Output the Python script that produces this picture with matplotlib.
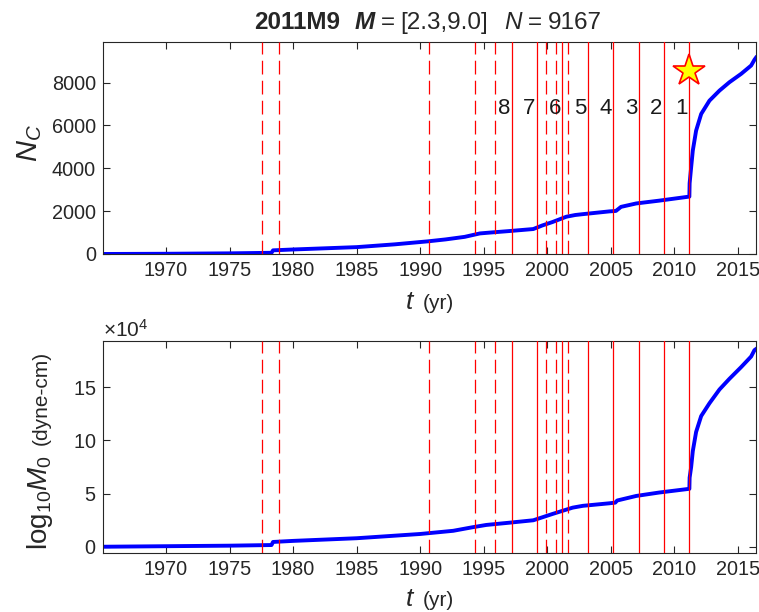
import numpy as np
import matplotlib.pyplot as plt
from matplotlib.ticker import ScalarFormatter

plt.rcParams['font.family'] = ['Liberation Sans', 'DejaVu Sans']
plt.rcParams['mathtext.fontset'] = 'custom'
plt.rcParams['mathtext.rm'] = 'Liberation Sans'
plt.rcParams['mathtext.it'] = 'Liberation Sans:italic'
plt.rcParams['mathtext.bf'] = 'Liberation Sans:bold'

TXT = '#262626'

# cumulative number of events N_C (top panel)
nc_years = [1965.04, 1970.0, 1975.0, 1978.30, 1978.42, 1980.0, 1985.0, 1988.0,
            1990.6, 1992.0, 1993.5, 1994.7, 1995.5, 1997.0, 1998.9, 1999.6,
            2000.4, 2001.5, 2002.2, 2002.8, 2004.9, 2005.4, 2005.8, 2007.0,
            2008.8, 2011.18, 2011.20, 2011.32, 2011.45, 2011.71, 2012.11,
            2012.76, 2013.55, 2014.33, 2015.25, 2016.04, 2016.30, 2016.42]
nc_vals = [0, 10, 30, 55, 170, 210, 320, 450,
           590, 680, 800, 960, 1000, 1070, 1165, 1330,
           1490, 1740, 1820, 1860, 1990, 2010, 2200, 2360,
           2490, 2680, 3300, 4050, 4830, 5760, 6540,
           7160, 7630, 8020, 8410, 8800, 9070, 9167]

# cumulative moment, units of 1e4 (bottom panel)
mo_years = [1965.04, 1975.0, 1978.30, 1978.42, 1980.0, 1985.0, 1990.0, 1992.6,
            1994.1, 1995.2, 1997.0, 1998.9, 2000.4, 2002.0, 2002.8, 2004.9,
            2005.35, 2005.5, 2007.0, 2008.8, 2011.18, 2011.20, 2011.32, 2011.45,
            2011.71, 2012.11, 2012.76, 2013.55, 2014.33, 2015.25, 2016.04,
            2016.30, 2016.42]
mo_vals = [0.0, 0.1, 0.16, 0.45, 0.55, 0.8, 1.2, 1.5,
           1.83, 2.05, 2.26, 2.49, 3.08, 3.68, 3.85, 4.09,
           4.15, 4.35, 4.78, 5.1, 5.45, 6.5, 7.5, 9.0,
           10.8, 12.3, 13.5, 14.8, 15.8, 16.9, 17.9,
           18.5, 18.6]

dashed_years = [1977.59, 1978.89, 1990.70, 1994.30, 1995.87, 1999.88, 2000.70, 2001.66]
solid_years = [1997.19, 1999.19, 2001.19, 2003.19, 2005.19, 2007.19, 2009.19, 2011.19]
window_labels = ['8', '7', '6', '5', '4', '3', '2', '1']
main_shock = (2011.19, 8560)


def seq_text(fig, xc, yc, pieces, vertical=False):
    # pieces: (string, kwargs, gap in px before)
    r = fig.canvas.get_renderer()
    W, H = fig.bbox.width, fig.bbox.height
    objs = []
    for s, kw, gap in pieces:
        t = fig.text(0, 0, s, ha='left', va='baseline', color=TXT,
                     rotation=90 if vertical else 0, rotation_mode='anchor', **kw)
        objs.append((t, gap))
    lens = []
    for t, gap in objs:
        bb = t.get_window_extent(r)
        lens.append(bb.height if vertical else bb.width)
    total = sum(lens) + sum(g for _, g in objs)
    pos = (yc * H if vertical else xc * W) - total / 2
    for (t, gap), L in zip(objs, lens):
        pos += gap
        if vertical:
            t.set_position((xc, pos / H))
        else:
            t.set_position((pos / W, yc))
        pos += L


fig = plt.figure(figsize=(7.59, 6.12), dpi=100)
ax1 = fig.add_axes([0.1357, 0.585, 0.8603, 0.3464])
ax2 = fig.add_axes([0.1357, 0.0964, 0.8603, 0.3464])

for ax in (ax1, ax2):
    for x in dashed_years:
        ax.axvline(x, color='red', lw=0.9, ls=(0, (11, 5)), zorder=3)
    for x in solid_years:
        ax.axvline(x, color='red', lw=0.9, zorder=3)
    ax.set_xlim(1965.04, 2016.42)
    ax.set_xticks(range(1970, 2016, 5))
    ax.tick_params(direction='in', top=True, right=True, length=5, width=0.8,
                   colors=TXT, labelsize=14.3, pad=5)
    for sp in ax.spines.values():
        sp.set_color(TXT)
        sp.set_linewidth(0.8)

ax1.plot(nc_years, nc_vals, color='blue', lw=2.8, zorder=2)
ax1.set_ylim(0, 9900)
ax1.set_yticks([0, 2000, 4000, 6000, 8000])
ax1.plot(*main_shock, marker='*', ms=24, mfc='yellow', mec='red', mew=1.2, zorder=5)
for i, lab in enumerate(window_labels):
    xc = (solid_years[i] - 2 + solid_years[i]) / 2 + 0.4
    ax1.text(xc, 6800, lab, ha='center', va='center', fontsize=16, color='#1a1a1a', zorder=6)

ax2.plot(mo_years, np.array(mo_vals) * 1e4, color='blue', lw=2.8, zorder=2)
ax2.set_ylim(-0.59e4, 19.36e4)
ax2.set_yticks([0, 5e4, 10e4, 15e4])
fmt = ScalarFormatter(useMathText=True)
fmt.set_powerlimits((4, 4))
ax2.yaxis.set_major_formatter(fmt)
ax2.yaxis.get_offset_text().set_fontsize(15)
ax2.yaxis.get_offset_text().set_color(TXT)

fig.canvas.draw()

seq_text(fig, 428 / 759, 1 - 29 / 612, [
    ('2011M9', dict(fontsize=17.5, fontweight='bold'), 0),
    ('M', dict(fontsize=17.5, fontweight='bold', fontstyle='italic'), 14),
    ('=', dict(fontsize=17.5), 6),
    ('[2.3,9.0]', dict(fontsize=17.5), 6),
    ('N', dict(fontsize=17.5, fontstyle='italic'), 16),
    ('=', dict(fontsize=17.5), 6),
    ('9167', dict(fontsize=17.5), 6),
])

for yb in (1 - 309 / 612, 1 - 606 / 612):
    seq_text(fig, 430 / 759, yb, [
        ('t', dict(fontsize=19, fontstyle='italic'), 0),
        ('(yr)', dict(fontsize=15), 9),
    ])

seq_text(fig, 37 / 759, 1 - 143 / 612, [(r'$N_C$', dict(fontsize=21), 0)], vertical=True)
seq_text(fig, 47 / 759, 1 - 450 / 612, [
    (r'log$_{10}$$M_0$', dict(fontsize=20), 0),
    ('(dyne-cm)', dict(fontsize=15), 10),
], vertical=True)

fig.savefig('out.png', dpi=100)
